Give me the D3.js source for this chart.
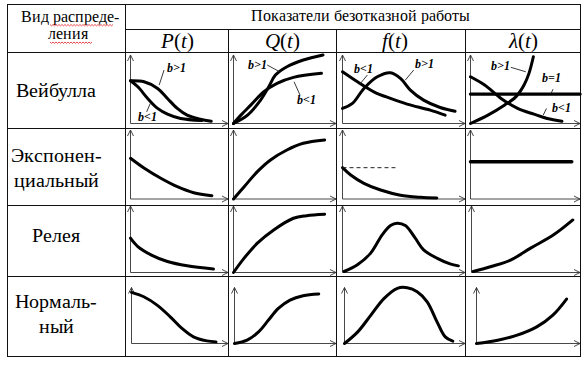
<html><head><meta charset="utf-8"><script src="https://cdn.jsdelivr.net/npm/d3@7"></script>
<style>
@font-face { font-family: 'TabSerif'; font-style: normal; font-weight: 400;
  src: local('Liberation Serif'), local('LiberationSerif'), local('LiberationSerif-Regular'), local('Tinos'), local('Times New Roman'); }
@font-face { font-family: 'TabSerif'; font-style: italic; font-weight: 400;
  src: local('Liberation Serif Italic'), local('LiberationSerif-Italic'), local('Tinos Italic'); }
@font-face { font-family: 'TabSerif'; font-style: italic; font-weight: 700;
  src: local('Liberation Serif Bold Italic'), local('LiberationSerif-BoldItalic'), local('Tinos Bold Italic'); }
</style>
</head>
<body style="margin:0">
<svg width="587" height="366"></svg>
<script>
// ---- texts ----
var cornerLabel = ["Вид распреде-", "ления"]
var topLabel = "Показатели безотказной работы"
var colLabels = ["P", "Q", "f", "λ"]
var rowLabels = [["Вейбулла"], ["Экспонен-", "циальный"], ["Релея"], ["Нормаль-", "ный"]]

// ---- curves, 0..100 along each cell's own axes ----
// Weibull
var wP_gt1 = [[0,62.4],[13.9,60.9],[27.8,51.2],[37.9,36.6],[48,22],[58.1,12.2],[71.6,6.3],[82.8,3.4]]
var wP_lt1 = [[0,62.4],[7.5,53.6],[17.6,36.6],[27.8,22],[37.9,13.6],[51.4,7.3],[73.3,4.4]]
var wQ_gt1 = [[0,0],[13.7,12.2],[26.4,34.1],[34.4,53.6],[40.9,70.7],[52.1,82.9],[68.1,92.7],[87.3,100]]
var wQ_lt1 = [[0,0],[7.2,12.2],[16.8,26.8],[29.6,46.3],[42.5,58.6],[58.5,67.3],[85.8,73.2]]
var wF_lt1 = [[0,75.5],[12.2,60.9],[25.6,46.3],[39.2,36.6],[52.7,28.3],[71.6,19.5],[83.8,12.2]]
var wF_gt1 = [[0,22],[8.1,29.3],[17.5,51.2],[28.4,68.2],[39.2,74.1],[47.3,65.9],[55.4,48.8],[66.2,34.1],[79.7,23.4],[91.9,18]]
var wL_eq1 = [[0,42.9],[100,42.9]]
var wL_lt1 = [[0,68.2],[12.9,56.1],[27.9,36.6],[43,22],[57.9,13.6],[70,7.3],[83.5,3.4]]
var wL_gt1 = [[0,0],[15.9,12.2],[30.9,26.8],[41.4,38.9],[48.9,56.1],[53.4,73.2],[57.4,97.5]]
// exponential
var eP = [[0,59],[14.2,44.5],[31.1,30],[48,17.8],[64.8,9.1],[83.5,4.8]]
var eQ = [[0,0],[10.4,17.8],[23.3,39.6],[36.1,56.5],[52.1,71],[68.1,80.7],[88.9,85.5]]
var eF = [[0,45.4],[6.7,34.8],[17.5,22.7],[31.1,13],[47.3,5.5],[63.5,2.5],[77,1.5]]
var eF_level = [[0,45.4],[43.2,45.4]]
var eL = [[0,54],[92.5,54]]
// Rayleigh
var rP = [[0,51.6],[7.5,39],[21,26.6],[37.9,16.5],[58.1,10],[85.1,5.1]]
var rQ = [[0,0],[10.4,21.6],[23.3,44.1],[39.2,64],[58.5,81.6],[71.3,85.5],[88.9,87.6]]
var rF = [[1.3,1.5],[12.2,11.5],[23,29.1],[32.4,56.6],[39.2,70.5],[44.6,74.1],[51.3,70.5],[59.4,51.6],[66.2,34.1],[77,21.6],[87.8,13],[94.6,10]]
var rL = [[1.5,1.5],[18.2,9],[36.4,19],[54.5,36.6],[75.7,56.6],[93.4,79]]
// normal
var nP = [[0,91.4],[12.7,83.5],[26.5,68.6],[40.2,47.7],[52.3,26.9],[64.2,11.8],[78,4.7],[87.6,2.9]]
var nQ = [[0,0],[12.4,5.9],[23.7,20.8],[33.5,41.8],[43.2,62.7],[54.7,77.6],[67.6,85.3],[83,88.3]]
var nF = [[0,0],[11,20.8],[21.9,50.7],[32.9,80.6],[43.9,98.6],[52.1,99.6],[60.3,92.5],[68.6,74.5],[76.8,38.7],[83.6,11.8],[89.9,4.1]]
var nL = [[0,0],[20.5,5.9],[39.3,14.9],[58.2,29.7],[73.8,50.7],[87,79.4]]

// curves in each cell [row][col]
var cells = [
  [[wP_gt1, wP_lt1], [wQ_gt1, wQ_lt1], [wF_lt1, wF_gt1], [wL_eq1, wL_lt1, wL_gt1]],
  [[eP], [eQ], [eF], [eL]],
  [[rP], [rQ], [rF], [rL]],
  [[nP], [nQ], [nF], [nL]]
]
var dashed = [eF_level]

// b-labels of the Weibull row: text, anchor, leader line
var notes = [
  {col: 0, t: "b>1", at: [37.9, 75.5], lead: [[34.4, 78], [29.4, 56.1]]},
  {col: 0, t: "b<1", at: [7.5, 3.4], lead: [[20.3, 29.3], [16.6, 17]]},
  {col: 1, t: "b>1", at: [13.7, 80], lead: [[32.9, 85.4], [45, 75.5]]},
  {col: 1, t: "b<1", at: [62.3, 28.3], lead: [[59.1, 60.9], [64.9, 41.4]]},
  {col: 2, t: "b<1", at: [9.4, 73.2], lead: [[20.3, 70.7], [13.5, 56.1]]},
  {col: 2, t: "b>1", at: [58.9, 80.5], lead: [[58.1, 78], [51.3, 63.4]]},
  {col: 3, t: "b>1", at: [18.9, 78], lead: [[36.9, 82], [50.5, 75.5]]},
  {col: 3, t: "b=1", at: [65.5, 60.9], lead: [[75.4, 50.2], [73.6, 43.9]]},
  {col: 3, t: "b<1", at: [74.5, 17], lead: [[69.4, 22], [66.4, 12.2]]}
]

// ---- layout ----
var serif = 'TabSerif, Liberation Serif, Tinos, Times New Roman, FreeSerif, serif'
var svg = d3.select('svg').attr('font-family', serif)
var colX = [7.5, 125.5, 228.5, 336.5, 465.5, 580.5]
var rowY = [4.5, 29.5, 52.5, 128.5, 205.5, 276.5, 356.5]
var axisTB = [[55, 123.5], [130, 199], [206, 272.5], [287.5, 343.5]]
var axisLeft = [[4, 4, 5, 4], [4, 4, 5, 4], [4, 4, 5, 5], [5.5, 5.5, 7, 10]]

function txt(x, y, size){
  return svg.append('text').attr('x', x).attr('y', y)
    .attr('font-family', serif).attr('font-size', size)
}

// table grid
var grid = svg.append('g').attr('stroke', '#111').attr('stroke-width', 1).attr('fill', 'none')
grid.append('rect').attr('x', colX[0]).attr('y', rowY[0])
    .attr('width', colX[5] - colX[0]).attr('height', rowY[6] - rowY[0])
grid.append('line').attr('x1', colX[1]).attr('x2', colX[5]).attr('y1', rowY[1]).attr('y2', rowY[1])
rowY.slice(2, 6).forEach(function(y){
  grid.append('line').attr('x1', colX[0]).attr('x2', colX[5]).attr('y1', y).attr('y2', y)
})
grid.append('line').attr('x1', colX[1]).attr('x2', colX[1]).attr('y1', rowY[0]).attr('y2', rowY[6])
colX.slice(2, 5).forEach(function(x){
  grid.append('line').attr('x1', x).attr('x2', x).attr('y1', rowY[1]).attr('y2', rowY[6])
})

// header texts
txt(360, 21, 15.5).attr('text-anchor', 'middle').text(topLabel)
cornerLabel.forEach(function(s, i){
  txt(i ? 68 : 70, i ? 39 : 21.5, 15.5).attr('text-anchor', 'middle').text(s)
})
// spell-check squiggles
function squiggle(x0, x1, y){
  var p = 'M' + x0 + ',' + y
  for (var x = x0, k = 0; x < x1; x += 1.5, k++) p += 'L' + (x + 1.5) + ',' + (y + (k % 2 ? 0 : 1.4))
  svg.append('path').attr('d', p).attr('fill', 'none').attr('stroke', '#e02020').attr('stroke-width', 0.8)
}
squiggle(50, 113, 24.5)
squiggle(50, 91, 42)

var colHeadShift = [0, 0, -6, 0]
colLabels.forEach(function(s, i){
  var t = txt((colX[i + 1] + colX[i + 2]) / 2 + colHeadShift[i], 47.5, 21).attr('text-anchor', 'middle')
  t.append('tspan').attr('font-style', 'italic').text(s)
  t.append('tspan').text('(')
  t.append('tspan').attr('font-style', 'italic').text('t')
  t.append('tspan').text(')')
})

var rowBase = [[96.5], [161.5, 186.5], [241.5], [308, 333]]
rowLabels.forEach(function(lines, r){
  lines.forEach(function(s, k){
    txt(56, rowBase[r][k], 20).attr('text-anchor', 'middle').text(s)
  })
})

// small plots
cells.forEach(function(row, r){
  row.forEach(function(series, c){
    var ox = Math.round(colX[c + 1] + axisLeft[r][c]) + 0.5
    var xEnd = colX[c + 2] - 0.5
    var oy = axisTB[r][1], yTop = axisTB[r][0]
    var x = d3.scaleLinear().domain([0, 100]).range([ox, xEnd])
    var y = d3.scaleLinear().domain([0, 100]).range([oy, yTop])
    var g = svg.append('g')

    var ax = g.append('g').attr('stroke', '#333').attr('stroke-width', 0.9).attr('fill', 'none')
    ax.append('path').attr('d', 'M' + x(0) + ',' + y(0) + 'V' + y(100))
    ax.append('path').attr('d', 'M' + x(0) + ',' + y(0) + 'H' + x(100))
    ax.append('path').attr('d', 'M' + (x(0) - 3) + ',' + (y(100) + 6) + 'L' + x(0) + ',' + y(100) + 'L' + (x(0) + 3) + ',' + (y(100) + 6))
    ax.append('path').attr('d', 'M' + (x(100) - 6) + ',' + (y(0) - 3) + 'L' + x(100) + ',' + y(0) + 'L' + (x(100) - 6) + ',' + (y(0) + 3))

    var line = d3.line().x(function(d){ return x(d[0]) }).y(function(d){ return y(d[1]) })
                 .curve(d3.curveCatmullRom.alpha(0.5))
    series.forEach(function(s){
      g.append('path').attr('d', line(s)).attr('fill', 'none').attr('stroke', '#000')
       .attr('stroke-width', s.length == 2 ? 3.4 : 3).attr('stroke-linecap', 'round')
    })
    if (r == 1 && c == 2) {
      dashed.forEach(function(s){
        g.append('path').attr('d', line(s)).attr('fill', 'none').attr('stroke', '#222')
         .attr('stroke-width', 1).attr('stroke-dasharray', '4,3')
      })
    }
    if (r == 0) {
      notes.filter(function(n){ return n.col == c }).forEach(function(n){
        g.append('path').attr('d', d3.line().x(function(d){ return x(d[0]) }).y(function(d){ return y(d[1]) })(n.lead))
         .attr('stroke', '#222').attr('stroke-width', 0.9).attr('fill', 'none')
        txt(x(n.at[0]), y(n.at[1]), 12)
         .attr('font-weight', 'bold').attr('font-style', 'italic').text(n.t)
      })
    }
  })
})
</script>
</body></html>
